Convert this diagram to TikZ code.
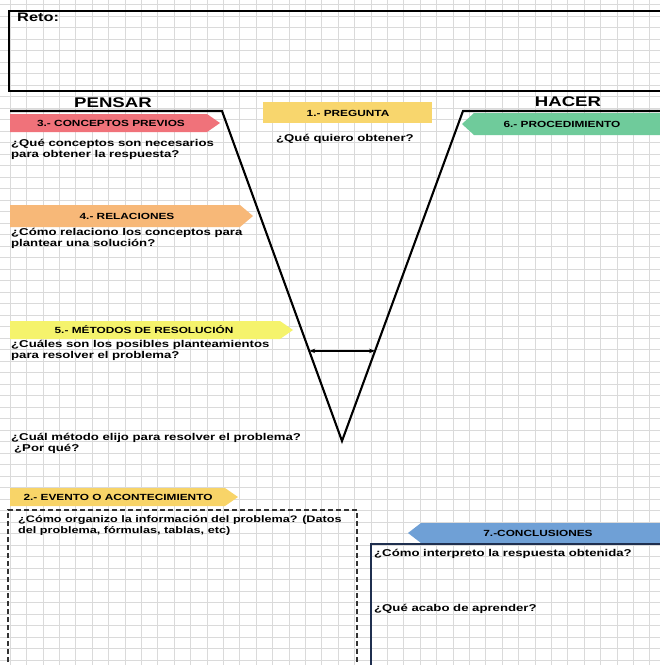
\documentclass[tikz,border=0pt]{standalone}
\usepackage{fontspec}
\setmainfont{Liberation Sans}[FakeStretch=1.33]
\usetikzlibrary{arrows.meta,calc}
\definecolor{gridc}{HTML}{DADADA}
\definecolor{redl}{HTML}{F0727A}
\definecolor{goldl}{HTML}{F8D66D}
\definecolor{greenl}{HTML}{6FCB9B}
\definecolor{orangel}{HTML}{F7B878}
\definecolor{yellowl}{HTML}{F5F36C}
\definecolor{eventl}{HTML}{F8D468}
\definecolor{bluel}{HTML}{6FA0D6}
\definecolor{navyl}{HTML}{1F2F4F}
\tikzset{
  lbl/.style={font=\bfseries\fontsize{8.9}{10}\selectfont, inner sep=0pt},
  body/.style={font=\bfseries\fontsize{9.9}{11}\selectfont, anchor=north west, align=left, inner sep=0pt},
  head/.style={font=\bfseries\fontsize{14}{16}\selectfont, inner sep=0pt},
  thickline/.style={line width=2.1pt, black},
}
\begin{document}
\begin{tikzpicture}[x=1pt,y=-1pt]
\useasboundingbox (0,0) rectangle (660,665);
\fill[white] (0,0) rectangle (660,665);
\begin{scope}
\clip (0,0) rectangle (660,665);
% grid
\foreach \i in {0,...,40} {\draw[gridc, line width=0.6pt] ({10+16.4*\i},0) -- ({10+16.4*\i},665);}
\foreach \j in {0,...,58} {\draw[gridc, line width=0.6pt] (0,{4.5+11.5*\j}) -- (660,{4.5+11.5*\j});}
% Reto box
\draw[thickline] (9,11) rectangle (664,91);
\node[font=\bfseries\fontsize{12.3}{14}\selectfont, anchor=north west, inner sep=0pt] (reto) at (17,13) {Reto:};
% headers
\node[head] (pensar) at (113,103) {PENSAR};
\node[head] (hacer) at (568,102) {HACER};
% label shapes
\fill[goldl] (263,102) rectangle (432,123);
\node[lbl] (preg) at (348,113) {1.- PREGUNTA};
\fill[redl] (10,114) -- (207,114) -- (220,123) -- (207,132) -- (10,132) -- cycle;
\node[lbl] (conc) at (111,123) {3.- CONCEPTOS PREVIOS};
\fill[greenl] (664,113) -- (474,113) -- (462,124) -- (474,135) -- (664,135) -- cycle;
\node[lbl] (proc) at (562,124) {6.- PROCEDIMIENTO};
\fill[orangel] (10,205) -- (240,205) -- (253,216) -- (240,227) -- (10,227) -- cycle;
\node[lbl] (rel) at (127,216) {4.- RELACIONES};
\fill[yellowl] (10,321) -- (280,321) -- (293,330) -- (280,339) -- (10,339) -- cycle;
\node[lbl] (met) at (144,330) {5.- MÉTODOS DE RESOLUCIÓN};
\fill[eventl] (10,488) -- (225,488) -- (238,497) -- (225,506) -- (10,506) -- cycle;
\node[lbl] (evt) at (118,497) {2.- EVENTO O ACONTECIMIENTO};
\fill[bluel] (664,523) -- (421,523) -- (408,533) -- (421,543) -- (664,543) -- cycle;
\node[lbl] (concl) at (538,533) {7.-CONCLUSIONES};
% V shape
\coordinate (tl) at (10,111);
\coordinate (vl) at (222,111);
\coordinate (vb) at (342,441);
\coordinate (vr) at (463,111);
\coordinate (tr) at (664,111);
\draw[thickline, line join=miter] (tl) -- (vl) -- (vb) -- (vr) -- (tr);
\coordinate (al) at ($(vl)!0.727!(vb)$);
\coordinate (ar) at ($(vr)!0.727!(vb)$);
\draw[line width=1.2pt, {Stealth[length=6pt,width=4.5pt]}-{Stealth[length=6pt,width=4.5pt]}] (al) -- (ar);
% texts
\node[body] (t3) at (11,139.5) {¿Qué conceptos son necesarios\\para obtener la respuesta?};
\node[body] (t1) at (276,134) {¿Qué quiero obtener?};
\node[body] (t4) at (11,228.5) {¿Cómo relaciono los conceptos para\\plantear una solución?};
\node[body] (t5) at (11,340.5) {¿Cuáles son los posibles planteamientos\\para resolver el problema?};
\node[body] (t5b) at (11,433) {¿Cuál método elijo para resolver el problema?\\\hspace*{3pt}¿Por qué?};
% dashed box
\draw[line width=1.7pt, color=black!80, dash pattern=on 5pt off 3pt] (8,670) -- (8,510) -- (357,510) -- (357,670);
\node[body, font=\bfseries\fontsize{9.5}{11}\selectfont] (t2) at (18,515) {¿Cómo organizo la información del problema? (Datos\\del problema, fórmulas, tablas, etc)};
% conclusions box
\draw[line width=1.9pt, navyl] (371,670) -- (371,544) -- (664,544);
\node[body] (t7a) at (374,549) {¿Cómo interpreto la respuesta obtenida?};
\node[body] (t7b) at (374,604) {¿Qué acabo de aprender?};
\end{scope}
\end{tikzpicture}
\end{document}
